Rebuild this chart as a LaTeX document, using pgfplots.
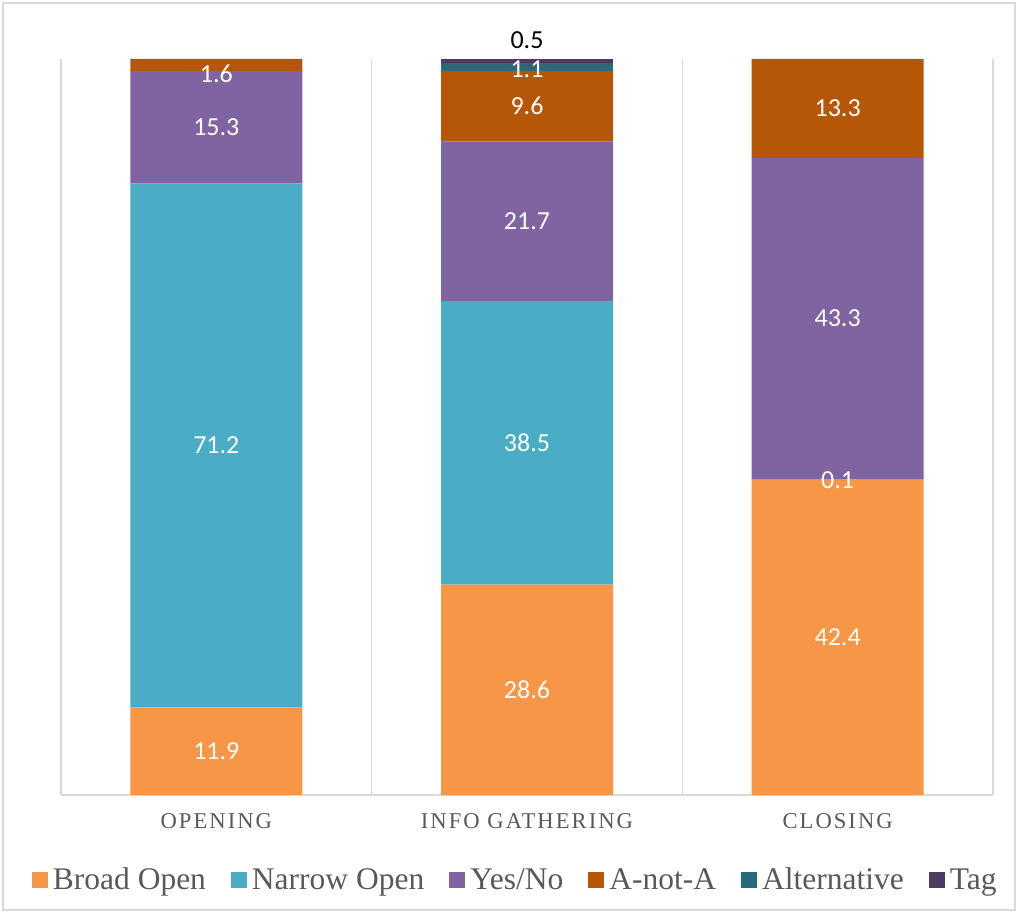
\documentclass[border=0pt]{standalone}
\usepackage{pgfplots}
\pgfplotsset{compat=1.18}
\usepackage{fontspec}
\setmainfont{Liberation Serif}
\newfontfamily\carlito{Carlito}
\newfontfamily\tickfont[LetterSpace=9]{Liberation Serif}
\definecolor{bo}{HTML}{F79646}
\definecolor{no}{HTML}{4BACC6}
\definecolor{yn}{HTML}{8064A2}
\definecolor{ana}{HTML}{B65708}
\definecolor{alt}{HTML}{276A7C}
\definecolor{tagc}{HTML}{4D3B62}
\definecolor{gridgray}{HTML}{D9D9D9}
\definecolor{labelgray}{HTML}{595959}
\pgfplotsset{
  sq/.style={legend image code/.code={\fill[##1] (0pt,-8pt) rectangle (16pt,8pt);}},
  centerlab/.style={nodes near coords style={anchor=center, text=white}},
}
\begin{document}
\begin{tikzpicture}
\path (-61pt,-118pt) rectangle (957pt,795pt);
\draw[gridgray, line width=1.5pt] (-58pt,-115pt) rectangle (954pt,792pt);
\begin{axis}[
  at={(0pt,0pt)}, anchor=south west,
  scale only axis, width=932pt, height=736pt,
  ybar stacked, bar width=172pt,
  xmin=-0.5, xmax=2.5, ymin=0, ymax=100,
  clip=false,
  axis y line=none, axis x line=bottom,
  x axis line style={-, draw=gridgray, line width=1.5pt},
  ytick=\empty,
  xtick={0,1,2}, xticklabels={OPENING, INFO GATHERING, CLOSING},
  major tick length=0pt,
  xticklabel style={font=\tickfont\fontsize{22.6}{24}\selectfont, text=labelgray, anchor=base, yshift=-33pt},
  extra x ticks={-0.5,0.5,1.5,2.5}, extra x tick labels={},
  extra x tick style={grid=major},
  major grid style={draw=gridgray, line width=1.5pt},
  point meta=explicit symbolic,
  nodes near coords,
  visualization depends on=rawy \as \rawy,
  nodes near coords style={font=\carlito\fontsize{26}{28}\selectfont},
  legend columns=6,
  legend style={at={(0.489,-0.115)}, anchor=center, draw=none, fill=none,
    font=\fontsize{31.5}{31.5}\selectfont, text=labelgray,
    nodes={inner xsep=5pt},
    /tikz/every even column/.append style={column sep=20pt}},
]
\addplot[fill=bo, draw=none, sq, centerlab] coordinates {(0,11.9) [11.9] (1,28.6) [28.6] (2,42.79) [42.4]};
\addplot[fill=no, draw=none, sq, centerlab] coordinates {(0,71.2) [71.2] (1,38.5) [38.5] (2,0.10) [0.1]};
\addplot[fill=yn, draw=none, sq, centerlab] coordinates {(0,15.3) [15.3] (1,21.7) [21.7] (2,43.69) [43.3]};
\addplot[fill=ana, draw=none, sq, centerlab, nodes near coords style={yshift={(\rawy<3)*(-9pt)}}] coordinates {(0,1.6) [1.6] (1,9.6) [9.6] (2,13.42) [13.3]};
\addplot[fill=alt, draw=none, sq, centerlab, nodes near coords style={yshift=-3pt}] coordinates {(0,0) [] (1,1.1) [1.1] (2,0) []};
\addplot[fill=tagc, draw=none, sq, nodes near coords style={anchor=south, text=black, yshift=9pt}] coordinates {(0,0) [] (1,0.5) [0.5] (2,0) []};
\legend{Broad Open, Narrow Open, Yes/No, A-not-A, Alternative, Tag}
\end{axis}
\end{tikzpicture}
\end{document}
